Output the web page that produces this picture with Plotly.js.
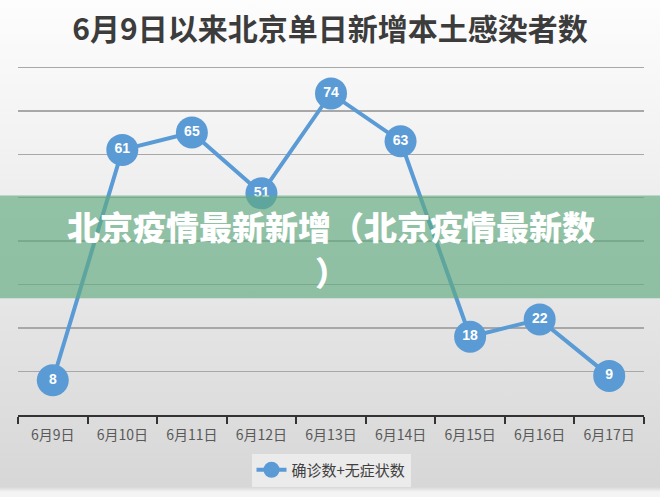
<!DOCTYPE html>
<html>
<head>
<meta charset="utf-8">
<script src="https://cdn.plot.ly/plotly-3.0.1.min.js"></script>
<style>
  body { margin: 0; }
  #chart {
    width: 660px; height: 497px;
    background: linear-gradient(to bottom, #fdfdfd 0%, #ececec 45%, #d7d7d7 98%, #f4f4f4 99%);
  }
</style>
</head>
<body>
<div id="chart"></div>
<script>
// data
const days = ['6月9日', '6月10日', '6月11日', '6月12日', '6月13日', '6月14日', '6月15日', '6月16日', '6月17日'];
const cases = [8, 61, 65, 51, 74, 63, 18, 22, 9];
const seriesName = '确诊数+无症状数';
const chartTitle = '6月9日以来北京单日新增本土感染者数';
const bannerLines = ['北京疫情最新新增（北京疫情最新数', '）'];

const cjk = '"Noto Sans CJK SC", "Noto Sans", sans-serif';
const blue = '#5b9bd5';

const trace = {
    x: days,
    y: cases,
    name: seriesName,
    type: 'scatter',
    mode: 'lines+markers+text',
    text: cases.map(String),
    textposition: 'middle center',
    textfont: { family: 'Arial, "Liberation Sans", sans-serif', size: 14, color: '#ffffff', weight: 'bold' },
    line: { color: blue, width: 4 },
    marker: { color: blue, size: 32 },
    cliponaxis: false,
};

// plot area spans x 18..644, y 63..416 px (0..81 on the value axis)
const plotW = 626;
const plotH = 353;
const toPaperY = py => (416 - py) / plotH;

const layout = {
    width: 660,
    height: 497,
    margin: { l: 18, r: 16, t: 63, b: 81 },
    paper_bgcolor: 'rgba(0,0,0,0)',
    plot_bgcolor: 'rgba(0,0,0,0)',
    title: {
        text: chartTitle,
        font: { family: cjk, size: 30, color: '#3c3c3c', weight: 'bold' },
        x: 0.5, xanchor: 'center',
        y: 0.94, yanchor: 'middle',
    },
    xaxis: {
        type: 'category',
        range: [-0.5, 8.5],
        showgrid: false,
        zeroline: false,
        showline: true,
        linecolor: '#333333',
        linewidth: 2,
        ticks: 'outside',
        tickson: 'boundaries',
        ticklen: 7,
        tickwidth: 2,
        tickcolor: '#333333',
        ticklabelstandoff: 6,
        tickfont: { family: cjk, size: 14, color: '#595959' },
        fixedrange: true,
    },
    yaxis: {
        range: [0, 81],
        tick0: 0,
        dtick: 10,
        showgrid: true,
        gridcolor: '#a8a8a8',
        gridwidth: 1.5,
        zeroline: false,
        showline: false,
        showticklabels: false,
        fixedrange: true,
    },
    showlegend: true,
    legend: {
        orientation: 'h',
        x: 0.5, xanchor: 'center',
        y: toPaperY(470), yanchor: 'middle',
        bgcolor: '#ebebeb',
        font: { family: cjk, size: 15, color: '#404040' },
    },
    shapes: [{
        type: 'rect',
        xref: 'paper', yref: 'paper',
        x0: -18 / plotW, x1: 1 + 16 / plotW,
        y0: toPaperY(299), y1: toPaperY(196),
        fillcolor: 'rgba(95,170,128,0.65)',
        line: { width: 0 },
        layer: 'above',
    }],
    // banner text, one annotation per line
    annotations: bannerLines.map((t, i) => ({
        text: t,
        xref: 'paper', yref: 'paper',
        x: 0.5, y: toPaperY(i === 0 ? 226 : 272),
        xanchor: 'center', yanchor: 'middle',
        showarrow: false,
        font: { family: cjk, size: 33, color: '#ffffff', weight: 900 },
    })),
};

Plotly.newPlot('chart', [trace], layout, { staticPlot: true });
</script>
</body>
</html>
